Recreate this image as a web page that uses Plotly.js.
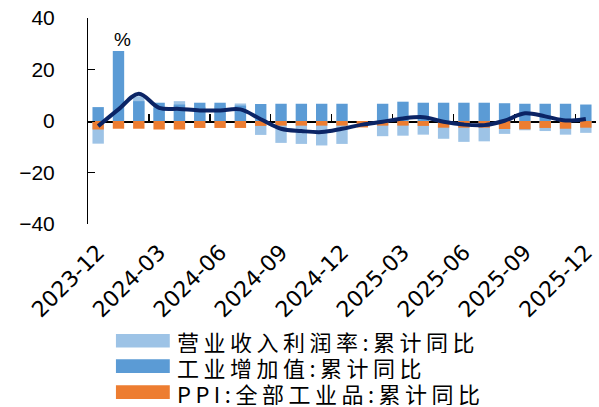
<!DOCTYPE html>
<html>
<head>
<meta charset="utf-8">
<script src="https://cdn.plot.ly/plotly-3.0.1.min.js"></script>
<style>html,body{margin:0;padding:0;background:#fff;}#chart{width:599px;height:407px;}</style>
</head>
<body>
<div id="chart"></div>
<script>
// ---- data ----
const months = ["2023-12","2024-01","2024-02","2024-03","2024-04","2024-05","2024-06","2024-07","2024-08","2024-09","2024-10","2024-11","2024-12",
                "2025-01","2025-02","2025-03","2025-04","2025-05","2025-06","2025-07","2025-08","2025-09","2025-10","2025-11","2025-12"];
const profitMargin = [-8.8, null, 9.6, 5.0, 7.7, 5.5, 6.0, 6.8, -5.4, -8.5, -8.9, -9.5, -8.9,
                      null, -5.9, -5.7, -5.3, -6.9, -8.1, -7.9, -5.0, -3.6, -3.9, -5.3, -4.6];
const valueAdded   = [5.4, 27.2, 7.7, 7.1, 6.4, 7.1, 7.1, 6.0, 6.6, 6.7, 6.7, 6.7, 6.7,
                      null, 6.7, 7.5, 7.1, 7.1, 7.1, 7.1, 6.9, 6.7, 6.7, 6.7, 6.4];
const ppi          = [-3.3, -3.0, -3.0, -3.3, -3.3, -2.7, -2.7, -2.7, -1.9, -1.8, -1.8, -1.8, -1.8,
                      -2.5, -1.8, -1.8, -1.9, -2.6, -2.6, -2.6, -3.1, -3.2, -2.7, -3.0, -2.6];
const lineSeries   = [-2.0, 4.5, 10.6, 5.1, 4.7, 4.1, 4.1, 4.5, 0.7, -3.0, -3.9, -4.3, -3.0,
                      -1.4, -0.3, 1.0, 1.5, -0.3, -1.4, -1.6, 0.1, 3.0, 1.8, 0.2, 0.8];
const seriesNames  = ["营业收入利润率:累计同比", "工业增加值:累计同比", "PPI:全部工业品:累计同比"];
const xTickLabels  = ["2023-12","2024-03","2024-06","2024-09","2024-12","2025-03","2025-06","2025-09","2025-12"];
const yTicks       = [-40, -20, 0, 20, 40];
const unitLabel    = "%";

// ---- style ----
const colors = ["#9DC3E6", "#5B9BD5", "#ED7D31"];
const lineColor = "#0B2465";
const barW = 0.56;

const traces = [
  {type:"bar", x:months, y:profitMargin, name:seriesNames[0], marker:{color:colors[0]}, width:barW, showlegend:false, hoverinfo:"skip"},
  {type:"bar", x:months, y:valueAdded,   name:seriesNames[1], marker:{color:colors[1]}, width:barW, showlegend:false, hoverinfo:"skip"},
  {type:"bar", x:months, y:ppi,          name:seriesNames[2], marker:{color:colors[2]}, width:barW, showlegend:false, hoverinfo:"skip"},
  {type:"scatter", mode:"lines", x:months, y:lineSeries, line:{color:lineColor, width:4, shape:"spline", smoothing:1.0}, showlegend:false, hoverinfo:"skip"},
  {type:"scatter", mode:"lines", x:[], y:[], xaxis:"x2", showlegend:false, hoverinfo:"skip"}
];

// boundary ticks every 3 months on the zero line
const boundaryTicks = [];
for (let k = 2.5; k < months.length - 1; k += 3) boundaryTicks.push(k);

// custom legend (shapes + text)
const legRowsY = [-0.567, -0.690, -0.816];
const shapes = [];
const annotations = [{
  xref:"paper", yref:"paper", x:0.067, y:0.895, text:unitLabel, showarrow:false,
  font:{family:"Liberation Sans, Arial, sans-serif", size:19, color:"#000"}, xanchor:"center", yanchor:"middle"
}];
seriesNames.forEach((nm, i) => {
  shapes.push({type:"rect", xref:"paper", yref:"paper", x0:0.055, x1:0.161,
               y0:legRowsY[i]-0.033, y1:legRowsY[i]+0.033, fillcolor:colors[i], line:{width:0}});
  annotations.push({xref:"paper", yref:"paper", x:0.172, y:legRowsY[i],
                    text:'<span style="letter-spacing:4.5px">' + nm + '</span>', showarrow:false,
                    xanchor:"left", yanchor:"middle", height:25, valign:"middle",
                    font:{family:"Noto Sans CJK SC, sans-serif", size:22, color:"#000"}});
});

const yTickFont = {family:"Liberation Sans, Arial, sans-serif", size:21, color:"#000"};
const xTickFont = {family:"DejaVu Sans, sans-serif", size:22, color:"#000"};
const layout = {
  width:599, height:407,
  margin:{l:88, r:3, t:18, b:183},
  paper_bgcolor:"#fff", plot_bgcolor:"#fff",
  barmode:"overlay",
  showlegend:false,
  xaxis:{type:"category", range:[-0.5, months.length-0.5], showgrid:false, zeroline:false, showline:false,
         ticks:"", tickmode:"array", tickvals:xTickLabels, ticktext:xTickLabels, tickangle:-45,
         tickfont:xTickFont, anchor:"y", ticklabelstandoff:10},
  xaxis2:{type:"linear", overlaying:"x", range:[-0.5, months.length-0.5], anchor:"free", position:0.5,
          showline:true, linecolor:"#000", linewidth:1.5, ticks:"inside", ticklen:7, tickwidth:1.2, tickcolor:"#000",
          tickmode:"array", tickvals:boundaryTicks, showticklabels:false, showgrid:false, zeroline:false, layer:"below traces"},
  yaxis:{range:[-40, 40], tickmode:"array", tickvals:yTicks, ticks:"inside", ticklen:7, tickcolor:"#000", tickwidth:1,
         showline:true, linecolor:"#000", linewidth:1, showgrid:false, zeroline:false,
         tickfont:yTickFont, ticklabelstandoff:28},
  shapes:shapes,
  annotations:annotations
};

Plotly.newPlot("chart", traces, layout, {displayModeBar:false, staticPlot:true});
</script>
</body>
</html>
